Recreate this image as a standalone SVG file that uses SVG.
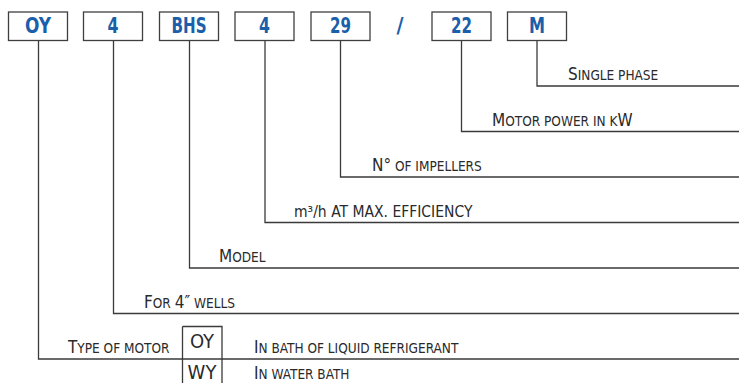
<svg xmlns="http://www.w3.org/2000/svg" width="739" height="383" viewBox="0 0 739 383">
<style>
.box{fill:#fff;stroke:#3f3f3f;stroke-width:1.3}
.code{font-family:"Liberation Sans Narrow","DejaVu Sans Condensed","Liberation Sans",sans-serif;font-weight:bold;font-size:22px;fill:#1b5ea9;text-anchor:middle}
.lbl{font-family:"Liberation Sans Narrow","DejaVu Sans Condensed","Liberation Sans",sans-serif;fill:#2a2a2a;font-size:13.5px}
.b{font-size:17px}
.conn{fill:none;stroke:#3a3a3a;stroke-width:1.3}
.opt{font-family:"Liberation Sans Narrow","DejaVu Sans Condensed","Liberation Sans",sans-serif;fill:#2a2a2a;font-size:20px;text-anchor:middle}
</style>
<g id="connectors">
<path class="conn" d="M38.5,40.5 V359 H740"/>
<path class="conn" d="M113.5,40.5 V313.5 H740"/>
<path class="conn" d="M189.5,40.5 V268 H740"/>
<path class="conn" d="M265,40.5 V222.5 H740"/>
<path class="conn" d="M340.5,40.5 V177 H740"/>
<path class="conn" d="M461.5,40.5 V131.5 H740"/>
<path class="conn" d="M537,40.5 V86 H740"/>
</g>
<g id="code-oy"><rect class="box" x="8.5" y="12" width="59" height="28.5"/><text class="code" x="38" y="33.3" textLength="26" lengthAdjust="spacingAndGlyphs">OY</text></g>
<g id="code-4a"><rect class="box" x="83.5" y="12" width="59" height="28.5"/><text class="code" x="113" y="33.3" textLength="11" lengthAdjust="spacingAndGlyphs">4</text></g>
<g id="code-bhs"><rect class="box" x="159.5" y="12" width="59" height="28.5"/><text class="code" x="189" y="33.3" textLength="35" lengthAdjust="spacingAndGlyphs">BHS</text></g>
<g id="code-4b"><rect class="box" x="235" y="12" width="59" height="28.5"/><text class="code" x="264.5" y="33.3" textLength="11" lengthAdjust="spacingAndGlyphs">4</text></g>
<g id="code-29"><rect class="box" x="311" y="12" width="59" height="28.5"/><text class="code" x="340.5" y="33.3" textLength="21" lengthAdjust="spacingAndGlyphs">29</text></g>
<g id="code-slash"><text class="code" x="400" y="33.3" textLength="7" lengthAdjust="spacingAndGlyphs">/</text></g>
<g id="code-22"><rect class="box" x="432" y="12" width="59" height="28.5"/><text class="code" x="461.5" y="33.3" textLength="21" lengthAdjust="spacingAndGlyphs">22</text></g>
<g id="code-m"><rect class="box" x="507.5" y="12" width="59" height="28.5"/><text class="code" x="537" y="33.3" textLength="16" lengthAdjust="spacingAndGlyphs">M</text></g>
<g id="label-single-phase"><text class="lbl" x="568" y="80"><tspan class="b">S</tspan>INGLE PHASE</text></g>
<g id="label-motor-power"><text class="lbl" x="492" y="125.5"><tspan class="b">M</tspan>OTOR POWER IN K<tspan class="b">W</tspan></text></g>
<g id="label-impellers"><text class="lbl" x="372" y="171"><tspan class="b">N°</tspan> OF IMPELLERS</text></g>
<g id="label-efficiency"><text class="lbl" x="294" y="216.5" style="font-size:15.5px">m³/h AT MAX. EFFICIENCY</text></g>
<g id="label-model"><text class="lbl" x="219" y="262"><tspan class="b">M</tspan>ODEL</text></g>
<g id="label-wells"><text class="lbl" x="144" y="307.5"><tspan class="b">F</tspan>OR <tspan class="b">4″</tspan> WELLS</text></g>
<g id="label-type"><text class="lbl" x="68" y="352.5"><tspan class="b">T</tspan>YPE OF MOTOR</text></g>
<g id="motor-options">
<path class="conn" d="M182.5,326.5 H222 V384 M182.5,326.5 V384"/>
<text class="opt" x="202" y="348">OY</text>
<text class="opt" x="202" y="379">WY</text>
<text class="lbl" x="254" y="353"><tspan class="b">I</tspan>N BATH OF LIQUID REFRIGERANT</text>
<text class="lbl" x="254" y="379"><tspan class="b">I</tspan>N WATER BATH</text>
</g>
</svg>
